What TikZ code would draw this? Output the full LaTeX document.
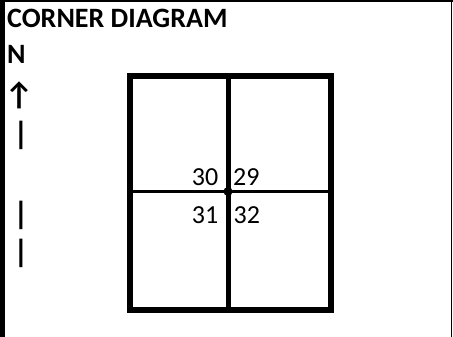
\documentclass[tikz,border=0pt]{standalone}
\usepackage{fontspec}
\setmainfont{Carlito}
\begin{document}
\begin{tikzpicture}[x=1pt,y=-1pt,
  lbl/.style={inner sep=0pt,font=\fontsize{28}{32}\selectfont\bfseries},
  barlbl/.style={inner sep=0pt,font=\fontsize{32}{36}\selectfont\bfseries},
  num/.style={inner sep=0pt,font=\fontsize{26}{30}\selectfont},
  thickbox/.style={line width=6pt},
  midline/.style={line width=3pt}]
\useasboundingbox (0,0) rectangle (453,337);
% frame
\draw[line width=5pt] (2.5,0) -- (2.5,337);
\draw[line width=2pt] (0,1) -- (453,1);
\draw[line width=1.5pt] (451.5,0) -- (451.5,337);
% title and compass
\node[lbl,anchor=base west] (title) at (7,28) {CORNER DIAGRAM};
\node[lbl,anchor=base west] (n) at (7,64) {N};
\node[barlbl,anchor=center] (arr) at (19,95) {↑};
\node[barlbl,anchor=center] (b1) at (21,135) {|};
\node[barlbl,anchor=center] (b2) at (21,215) {|};
\node[barlbl,anchor=center] (b3) at (21,253) {|};
% box
\coordinate (tl) at (130,76);
\coordinate (br) at (331.3,309.5);
\coordinate (vt) at (228,76);
\coordinate (vb) at (228,309.5);
\coordinate (hl) at (130,191.5);
\coordinate (hr) at (331.3,191.5);
\draw[thickbox] (tl) rectangle (br);
\draw[line width=5pt] (vt) -- (vb);
\draw[midline] (hl) -- (hr);
\fill (228,191.5) circle (4.5);
\node[num,anchor=base east] (n30) at (218.5,185) {30};
\node[num,anchor=base west] (n29) at (233,185) {29};
\node[num,anchor=base east] (n31) at (218.5,223) {31};
\node[num,anchor=base west] (n32) at (233.5,223) {32};
\end{tikzpicture}
\end{document}
